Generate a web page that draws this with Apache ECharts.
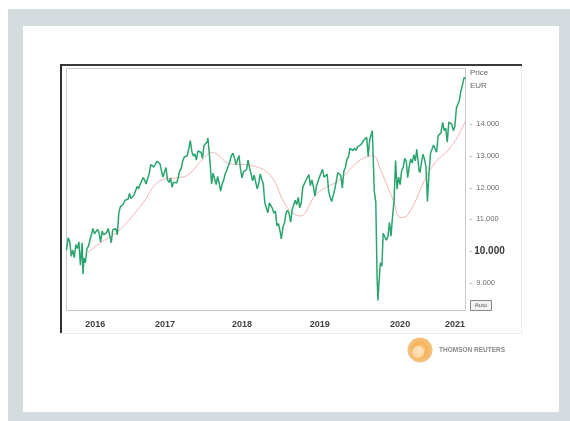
<!DOCTYPE html>
<html>
<head>
<meta charset="utf-8">
<script src="https://cdn.jsdelivr.net/npm/echarts@6/dist/echarts.min.js"></script>
<style>
html,body{margin:0;padding:0;background:#ffffff;width:570px;height:421px;overflow:hidden;}
#bg{position:absolute;left:8px;top:9px;width:562px;height:412px;background:#d5dce0;}
#panel{position:absolute;left:23px;top:26px;width:536px;height:386px;background:#ffffff;}
#chart{position:absolute;left:0;top:0;width:570px;height:421px;}
</style>
</head>
<body>
<div id="bg"></div>
<div id="panel"></div>
<div id="chart"></div>
<script>
// ---- data, DAX price in EUR ----
const dates2016 = ['04-12','04-15','04-20','04-27','05-04','05-11','05-18','05-25','06-01','06-08','06-15','06-23','06-27','07-01','07-08','07-15','07-22','07-29','08-05','08-12','08-19','08-26','09-02','09-09','09-16','09-23','09-30','10-07','10-14','10-21','10-28','11-04','11-11','11-18','11-25','12-02','12-09','12-16','12-23','12-30'];
const values2016 = [10030,10050,10420,10300,9830,10030,9790,10200,10080,10290,9550,10260,9270,9780,9630,10070,10150,10340,10370,10710,10540,10590,10680,10570,10280,10630,10510,10490,10580,10710,10700,10260,10670,10660,10700,10510,11200,11400,11450,11480];

const dates2017 = ['01-06','01-13','01-20','01-27','02-03','02-10','02-17','02-24','03-03','03-10','03-17','03-24','03-31','04-07','04-13','04-21','04-28','05-05','05-12','05-19','05-26','06-02','06-09','06-16','06-23','06-30','07-07','07-14','07-21','07-28','08-04','08-11','08-18','08-25','09-01','09-08','09-15','09-22','09-29','10-06','10-13','10-20','10-27','11-03','11-10','11-17','11-24','12-01','12-08','12-15','12-22','12-29'];
const values2017 = [11600,11630,11630,11810,11650,11670,11760,11800,12030,11960,12100,12060,12310,12230,12110,12050,12440,12720,12770,12640,12600,12820,12820,12750,12730,12330,12390,12630,12240,12160,12300,12010,12170,12170,12140,12300,12520,12590,12830,12960,13000,13000,13220,13480,13130,12990,13060,12860,13150,13100,13110,12920];

const dates2018 = ['01-05','01-12','01-19','01-23','02-02','02-09','02-16','02-23','03-02','03-09','03-16','03-23','03-29','04-06','04-13','04-20','04-27','05-04','05-11','05-18','05-25','06-01','06-08','06-15','06-22','06-29','07-06','07-13','07-20','07-27','08-03','08-10','08-17','08-24','08-31','09-07','09-14','09-21','09-28','10-05','10-12','10-19','10-26','11-02','11-09','11-16','11-23','11-30','12-07','12-14','12-21','12-27'];
const values2018 = [13320,13260,13430,13560,12790,12110,12450,12480,12090,12350,12390,11890,12100,12240,12440,12540,12580,12820,13000,13080,12940,12720,12770,13010,12580,12300,12500,12540,12560,12860,12620,12420,12210,12390,12360,11960,12120,12430,12250,12110,11520,11550,11200,11520,11530,11340,11190,11260,10790,10860,10630,10380];

const dates2019 = ['01-04','01-11','01-18','01-25','02-01','02-08','02-15','02-22','03-01','03-08','03-15','03-22','03-29','04-05','04-12','04-19','04-26','05-03','05-10','05-17','05-24','05-31','06-07','06-14','06-21','06-28','07-05','07-12','07-19','07-26','08-02','08-09','08-16','08-23','08-30','09-06','09-13','09-20','09-27','10-04','10-11','10-18','10-25','11-01','11-08','11-15','11-22','11-29','12-06','12-13','12-20','12-27'];
const values2019 = [10770,10890,11210,11280,11180,10910,11300,11460,11600,11460,11690,11360,11530,12010,12000,12220,12310,12410,12060,12240,12010,11730,12050,12100,12340,12400,12570,12320,12260,12420,11870,11690,11560,11610,11940,12190,12470,12470,12380,11980,12510,12630,12890,12960,13230,13240,13160,13240,13170,13280,13320,13340];

const dates2020 = ['01-10','01-24','01-31','02-07','02-19','02-28','03-06','03-12','03-16','03-20','03-27','04-03','04-09','04-17','04-24','05-01','05-08','05-15','05-22','05-29','06-05','06-12','06-19','06-26','07-03','07-10','07-17','07-24','07-31','08-07','08-14','08-21','08-28','09-04','09-11','09-21','09-25','10-09','10-16','10-23','10-30','11-06','11-13','11-20','11-27','12-04','12-11','12-18','12-31'];
const values2020 = [13480,13580,12980,13510,13790,11890,11540,9160,8440,8930,9630,9520,10560,10620,10340,10460,10900,10470,11070,11590,12850,11950,12330,12090,12530,12630,12920,12840,12310,12670,12900,12770,13030,12840,13200,12540,12470,13050,12900,12650,11560,12480,13080,13140,13340,13300,13110,13630,13720];

const dates2021 = ['01-08','01-15','01-22','01-29','02-05','02-12','02-19','02-26','03-05','03-12','03-19','03-26','04-01','04-09','04-16','04-23'];
const values2021 = [14050,13790,13870,13430,14060,14050,13990,13790,13920,14500,14620,14750,15010,15230,15460,15430];

// moving-average line (thin pink)
const maDates = ['2016-07-20','2016-09-13','2016-12-05','2017-03-16','2017-06-26','2017-08-25','2017-10-24','2017-12-28','2018-02-13','2018-05-04','2018-08-05','2018-11-05','2019-01-22','2019-03-23','2019-06-08','2019-09-22','2019-12-24','2020-02-23','2020-03-25','2020-05-25','2020-06-27','2020-08-02','2020-10-29','2020-12-13','2021-01-30','2021-03-18','2021-04-23'];
const maValues = [9950,10250,10620,11380,12250,12300,12400,12880,13100,12750,12700,12400,11380,11100,11800,12250,12860,13000,12600,11600,11050,11150,12400,12850,13150,13600,14100];

const yTickValues = [9000,10000,11000,12000,13000,14000];
const yearLabelDates = ['2016-08-22','2017-07-10','2018-06-29','2019-06-22','2020-06-26','2021-03-06'];
const xRange = ['2016-04-12','2021-04-23'];

// ---- chart ----
const chart = echarts.init(document.getElementById('chart'), null, {renderer:'canvas'});
const ts = d => +new Date(d + 'T00:00:00Z');
const years = [
  ['2016', dates2016, values2016], ['2017', dates2017, values2017], ['2018', dates2018, values2018],
  ['2019', dates2019, values2019], ['2020', dates2020, values2020], ['2021', dates2021, values2021]
];
const pricePairs = [];
years.forEach(([y, ds, vs]) => ds.forEach((d, i) => pricePairs.push([ts(y + '-' + d), vs[i]])));
const maPairs = maDates.map((d,i)=>[ts(d), maValues[i]]);

function fmtThousand(v){
  const s = String(v);
  return s.slice(0, s.length-3) + '.' + s.slice(-3);
}
const FONT = 'Liberation Sans, Arial, sans-serif';

chart.setOption({
  animation:false,
  backgroundColor:'transparent',
  grid:{left:66.5, right:104.5, top:60.5, bottom:106.5, show:false},
  xAxis:{
    type:'value',
    min:ts(xRange[0]), max:ts(xRange[1]),
    axisLine:{show:false}, axisTick:{show:false}, splitLine:{show:false},
    axisLabel:{
      customValues: yearLabelDates.map(ts),
      formatter:function(v){return String(new Date(v).getUTCFullYear());},
      color:'#3f3f3f', fontSize:9, fontWeight:'bold', fontFamily:FONT,
      margin:6
    }
  },
  yAxis:{
    type:'value', position:'right',
    min:8000, max:16000, interval:1000,
    axisLine:{show:false}, axisTick:{show:false}, splitLine:{show:false},
    axisLabel:{
      margin:4,
      fontFamily:FONT,
      formatter:function(v){
        if (yTickValues.indexOf(v) < 0) return '';
        if (v === 10000) return '{d|-}{b|' + fmtThousand(v) + '}';
        return '{d|-} ' + fmtThousand(v);
      },
      color:'#6d6d6d', fontSize:7.5,
      rich:{
        d:{color:'#777', fontSize:8, padding:[0,2,0,0]},
        b:{color:'#3a3a3a', fontSize:10, fontWeight:'bold', fontFamily:FONT}
      }
    }
  },
  series:[
    {type:'line', data:maPairs, showSymbol:false, smooth:0.4, lineStyle:{color:'#f4b3b3', width:1}, z:2},
    {type:'line', data:pricePairs, showSymbol:false, lineStyle:{color:'#2ba56e', width:1.5}, z:3}
  ],
  graphic:[
    {type:'rect', shape:{x:66.5, y:68.5, width:399, height:242}, style:{fill:null, stroke:'#c9c9c9', lineWidth:1}, z:-1, silent:true},
    {type:'line', shape:{x1:60, y1:65, x2:522, y2:65}, style:{stroke:'#3a3a3a', lineWidth:2}, silent:true},
    {type:'line', shape:{x1:61, y1:64, x2:61, y2:333}, style:{stroke:'#2e2e2e', lineWidth:2}, silent:true},
    {type:'line', shape:{x1:521.5, y1:66, x2:521.5, y2:333}, style:{stroke:'#ececec', lineWidth:1}, silent:true},
    {type:'line', shape:{x1:62, y1:333.5, x2:522, y2:333.5}, style:{stroke:'#ececec', lineWidth:1}, silent:true},
    {type:'text', left:470, top:69, style:{text:'Price', fill:'#666', fontSize:8, fontFamily:FONT}},
    {type:'text', left:470, top:82, style:{text:'EUR', fill:'#666', fontSize:8, fontFamily:FONT}},
    {type:'rect', shape:{x:470.5, y:300.5, width:21, height:10}, style:{fill:'#f2f2f2', stroke:'#8a8a8a', lineWidth:1}, silent:true},
    {type:'text', x:481, y:305.5, style:{text:'Auto', fill:'#555', fontSize:6, align:'center', verticalAlign:'middle', fontFamily:FONT}},
    {type:'circle', shape:{cx:420, cy:350, r:12.5}, style:{fill:{type:'radial', x:0.5, y:0.5, r:0.5, colorStops:[{offset:0, color:'#fbd9a6'},{offset:0.55, color:'#f6b35a'},{offset:1, color:'#f3c488'}]}}, silent:true},
    {type:'circle', shape:{cx:418, cy:352, r:6}, style:{fill:'#fff3df', opacity:0.55}, silent:true},
    {type:'text', x:439, y:350, style:{text:'THOMSON REUTERS', fill:'#8a8a8a', fontSize:6.5, verticalAlign:'middle', fontFamily:FONT, fontWeight:'bold'}}
  ]
});
</script>
</body>
</html>
